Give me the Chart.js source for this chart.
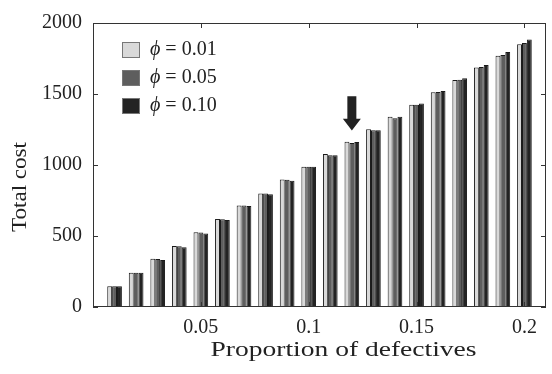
<!DOCTYPE html>
<html><head><meta charset="utf-8">
<script src="https://cdn.jsdelivr.net/npm/chart.js@4.4.1/dist/chart.umd.min.js"></script>
<style>html,body{margin:0;padding:0;background:#fff;}#wrap{width:552px;height:374px;}</style>
</head><body><div id="wrap"><canvas id="c" width="552" height="374"></canvas></div>
<script>
const categories = [0.01,0.02,0.03,0.04,0.05,0.06,0.07,0.08,0.09,0.10,0.11,0.12,0.13,0.14,0.15,0.16,0.17,0.18,0.19,0.20];
const phi001 = [146,241,340,429,526,620,714,800,898,988,1078,1164,1252,1340,1425,1512,1598,1686,1770,1850];
const phi005 = [146,241,338,427,524,618,714,800,896,988,1068,1155,1245,1330,1425,1514,1601,1690,1775,1860];
const phi010 = [146,241,331,420,518,612,712,794,889,988,1068,1162,1245,1340,1433,1522,1611,1705,1795,1883];
const seriesValues = ['0.01','0.05','0.10'];
const xTicks = [0.05,0.1,0.15,0.2];
const yTicks = [0,500,1000,1500,2000];
const arrowMark = {x:0.12, top:1485, headStart:1326, tip:1243};
const xTitle = 'Proportion of defectives';
const yTitle = 'Total cost';

const FONT = "'Liberation Serif','Times New Roman',serif";
const INK = '#222';
const pts = vals => categories.map((x,i)=>({x:x, y:vals[i]}));
const fills = ['#d9d9d9','#5e5e5e','#232323'];

function stretchedText(c, text, x, y, rot, targetLen){
  c.save();
  c.translate(x, y); c.rotate(rot);
  const w = c.measureText(text).width;
  c.scale(targetLen / w, 1);
  c.fillText(text, 0, 0);
  c.restore();
}

const framePlugin = {
  id:'frame',
  afterDraw(chart){
    const c = chart.ctx, a = chart.chartArea, xs = chart.scales.x, ys = chart.scales.y;
    c.save();
    // arrow
    const ax = xs.getPixelForValue(arrowMark.x);
    const yt = ys.getPixelForValue(arrowMark.top), yh = ys.getPixelForValue(arrowMark.headStart), yp = ys.getPixelForValue(arrowMark.tip);
    c.fillStyle = INK;
    c.beginPath();
    c.moveTo(ax-4.5,yt); c.lineTo(ax+4.5,yt); c.lineTo(ax+4.5,yh); c.lineTo(ax+9,yh);
    c.lineTo(ax,yp); c.lineTo(ax-9,yh); c.lineTo(ax-4.5,yh); c.closePath(); c.fill();
    // box
    c.strokeStyle = '#333'; c.lineWidth = 1;
    c.strokeRect(Math.round(a.left)+0.5, Math.round(a.top)+0.5, Math.round(a.right-a.left)-1, Math.round(a.bottom-a.top)-1);
    // inward ticks
    c.beginPath();
    yTicks.forEach(v=>{ const y = Math.round(ys.getPixelForValue(v))+0.5;
      c.moveTo(a.left, y); c.lineTo(a.left+5, y); c.moveTo(a.right, y); c.lineTo(a.right-5, y); });
    xTicks.forEach(v=>{ const x = Math.round(xs.getPixelForValue(v))+0.5;
      c.moveTo(x, a.bottom); c.lineTo(x, a.bottom-5); c.moveTo(x, a.top); c.lineTo(x, a.top+5); });
    c.stroke();
    // legend
    chart.data.datasets.forEach((d,i)=>{
      const bx = a.left+29, by = a.top+19+i*28;
      c.fillStyle = d.backgroundColor; c.fillRect(bx,by,18,16);
      c.strokeStyle = '#777'; c.strokeRect(bx+0.5,by+0.5,17,15);
      c.fillStyle = INK; c.textBaseline = 'middle'; c.textAlign = 'left';
      c.font = "italic 20px " + FONT;
      c.fillText('ϕ', bx+28, by+8);
      const w = c.measureText('ϕ').width;
      c.font = "20px " + FONT;
      c.fillText(' = ' + seriesValues[i], bx+28+w, by+8);
    });
    // titles
    c.fillStyle = INK; c.font = "20px " + FONT; c.textAlign = 'center'; c.textBaseline = 'middle';
    stretchedText(c, xTitle, (a.left+a.right)/2 + 24, 351, 0, 266);
    stretchedText(c, yTitle, 21, (a.top+a.bottom)/2 + 22, -Math.PI/2, 90);
    c.restore();
  }
};

new Chart(document.getElementById('c'), {
  type:'bar',
  data:{datasets:[
    {label:'ϕ = 0.01', data:pts(phi001), backgroundColor:fills[0], borderColor:'#1a1a1a', borderWidth:1},
    {label:'ϕ = 0.05', data:pts(phi005), backgroundColor:fills[1], borderColor:'#1a1a1a', borderWidth:1},
    {label:'ϕ = 0.10', data:pts(phi010), backgroundColor:fills[2], borderColor:'#1a1a1a', borderWidth:1}
  ]},
  options:{
    responsive:false, animation:false,
    layout:{padding:{top:19,right:6,left:0,bottom:0}},
    plugins:{legend:{display:false}, tooltip:{enabled:false}},
    datasets:{bar:{categoryPercentage:0.68, barPercentage:1.0}},
    scales:{
      x:{type:'linear', min:0, max:0.21, offset:false,
        grid:{display:false, drawTicks:false}, border:{display:false},
        afterBuildTicks: s => { s.ticks = xTicks.map(v=>({value:v})); },
        afterFit: s => { s.height = 67; },
        ticks:{font:{family:FONT,size:20}, color:INK, padding:9, maxRotation:0, autoSkip:false, callback:v=>String(v)}},
      y:{min:0, max:2000,
        grid:{display:false, drawTicks:false}, border:{display:false},
        afterBuildTicks: s => { s.ticks = yTicks.map(v=>({value:v})); },
        afterFit: s => { s.width = 93; },
        ticks:{font:{family:FONT,size:20}, color:INK, padding:11, callback:v=>String(v)}}
    }
  },
  plugins:[framePlugin]
});
</script></body></html>
